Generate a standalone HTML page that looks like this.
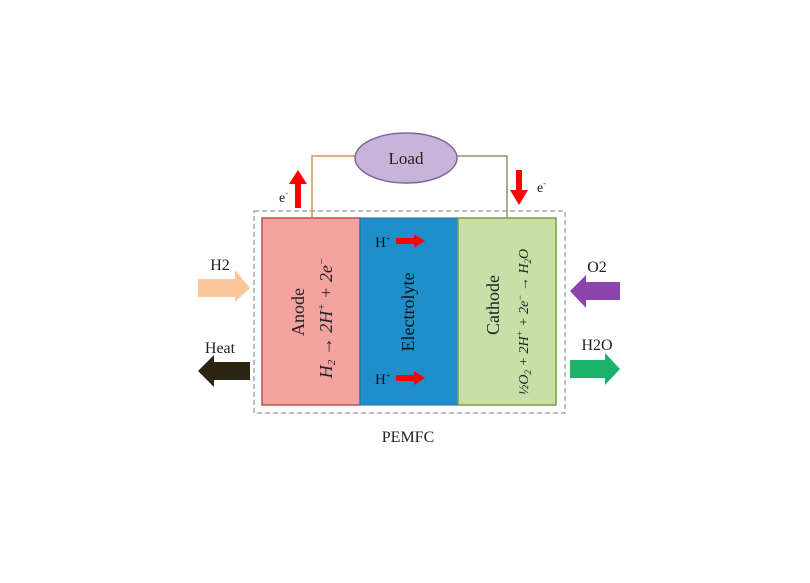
<!DOCTYPE html>
<html><head><style>
body{margin:0;background:#fff;}
svg text{font-family:"Liberation Serif",serif;}
</style></head><body>
<svg width="810" height="578" viewBox="0 0 810 578" xmlns="http://www.w3.org/2000/svg">
<rect x="254" y="211" width="311" height="202" fill="none" stroke="#aaa" stroke-width="1.5" stroke-dasharray="5,3"/>
<rect x="262" y="218" width="98" height="187" fill="#f4a3a0" stroke="#c0504d" stroke-width="1.5"/>
<rect x="360" y="218" width="98" height="187" fill="#1f8fcc" stroke="#1a6fa0" stroke-width="1"/>
<rect x="458" y="218" width="98" height="187" fill="#c8e0a8" stroke="#77a040" stroke-width="1.5"/>
<polyline points="312,218 312,156 355,156" fill="none" stroke="#e0904a" stroke-width="1.5"/>
<polyline points="507,218 507,156 457,156" fill="none" stroke="#8a9a60" stroke-width="1.5"/>
<ellipse cx="406" cy="158" rx="51" ry="25" fill="#c8b4d8" stroke="#8064a2" stroke-width="1.5"/>
<text x="406" y="164" font-size="17" text-anchor="middle" fill="#222">Load</text>
<polygon points="295,208 295,184 289,184 298,170 307,184 301,184 301,208" fill="#f00"/>
<text x="279" y="202" font-size="14" fill="#222">e<tspan font-size="8" dy="-6">-</tspan></text>
<polygon points="516,170 516,190 510,190 519,205 528,190 522,190 522,170" fill="#f00"/>
<text x="537" y="192" font-size="14" fill="#222">e<tspan font-size="8" dy="-6">-</tspan></text>
<text x="375" y="247" font-size="15" fill="#111">H<tspan font-size="8" dy="-6">+</tspan></text>
<polygon points="396,238 414,238 414,234 425,241 414,248 414,244 396,244" fill="#f00"/>
<text x="375" y="384" font-size="15" fill="#111">H<tspan font-size="8" dy="-6">+</tspan></text>
<polygon points="396,375 414,375 414,371 425,378 414,385 414,381 396,381" fill="#f00"/>
<text transform="translate(304,312) rotate(-90)" font-size="18" text-anchor="middle" fill="#222">Anode</text>
<text transform="translate(332,318) rotate(-90)" font-size="18" text-anchor="middle" fill="#222" font-style="italic">H<tspan font-size="11" dy="3">2</tspan><tspan dy="-3"> → 2H</tspan><tspan font-size="11" dy="-7">+</tspan><tspan dy="7"> + 2e</tspan><tspan font-size="11" dy="-7">−</tspan></text>
<text transform="translate(414,312) rotate(-90)" font-size="18" text-anchor="middle" fill="#111">Electrolyte</text>
<text transform="translate(499,305) rotate(-90)" font-size="18" text-anchor="middle" fill="#222">Cathode</text>
<text transform="translate(528,322) rotate(-90)" font-size="14" text-anchor="middle" fill="#222" font-style="italic">½O<tspan font-size="9" dy="3">2</tspan><tspan dy="-3"> + 2H</tspan><tspan font-size="9" dy="-5">+</tspan><tspan dy="5"> + 2e</tspan><tspan font-size="9" dy="-5">−</tspan><tspan dy="5"> → H</tspan><tspan font-size="9" dy="3">2</tspan><tspan dy="-3">O</tspan></text>
<text x="220" y="270" font-size="16" text-anchor="middle" fill="#222">H2</text>
<polygon points="198,279 235,279 235,270 250,288 235,302 235,297 198,297" fill="#fcc89a"/>
<text x="220" y="353" font-size="16" text-anchor="middle" fill="#222">Heat</text>
<polygon points="250,362 214,362 214,355 198,371 214,387 214,380 250,380" fill="#2a2410"/>
<text x="597" y="272" font-size="16" text-anchor="middle" fill="#222">O2</text>
<polygon points="620,282 586,282 586,275 570,291 586,308 586,300 620,300" fill="#8e44ad"/>
<text x="597" y="350" font-size="16" text-anchor="middle" fill="#222">H2O</text>
<polygon points="570,360 605,360 605,353 620,369 605,385 605,378 570,378" fill="#1ab26b"/>
<text x="408" y="442" font-size="16" text-anchor="middle" fill="#222">PEMFC</text>
</svg>
</body></html>
